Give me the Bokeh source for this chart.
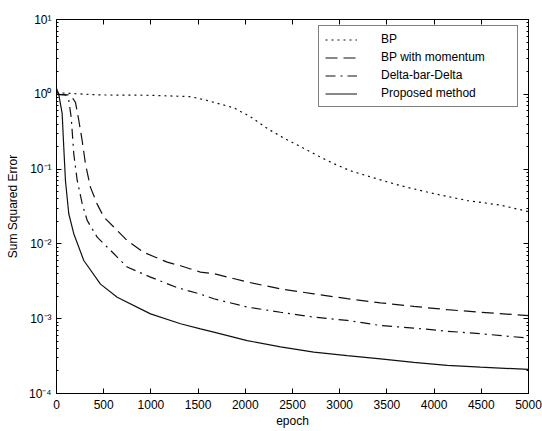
from bokeh.plotting import figure
from bokeh.models import (Range1d, LinearAxis, LogAxis, Legend, LegendItem,
                          FixedTicker, LogTicker, CustomJSTickFormatter)
from bokeh.embed import file_html
from bokeh.resources import INLINE

# ---- data ----
bp_epoch = [0, 466, 996, 1419, 1560, 1878, 2055, 2232, 2408, 2585, 2762, 2938,
            3114, 3291, 3644, 3997, 4351, 4703, 5000]
bp_sse = [1.05, 0.98, 0.97, 0.93, 0.85, 0.66, 0.50, 0.35, 0.26, 0.20, 0.152,
          0.118, 0.095, 0.081, 0.060, 0.047, 0.038, 0.033, 0.027]

mom_epoch = [0, 148, 201, 236, 272, 307, 360, 431, 501, 607, 749, 925, 1173,
             1314, 1525, 1666, 2020, 2373, 2726, 3079, 3432, 3785, 4139, 4492, 5000]
mom_sse = [1.0, 0.98, 0.78, 0.45, 0.24, 0.117, 0.057, 0.034, 0.0229, 0.0168,
           0.0111, 0.0077, 0.0057, 0.0051, 0.0042, 0.0040, 0.0031, 0.0025,
           0.00215, 0.00185, 0.00163, 0.00146, 0.00132, 0.00122, 0.0011]

dbd_epoch = [0, 95, 130, 156, 183, 219, 272, 325, 431, 572, 749, 996, 1279,
             1525, 1666, 2020, 2373, 2726, 3079, 3432, 3785, 4139, 4492, 5000]
dbd_sse = [1.0, 0.98, 0.83, 0.49, 0.16, 0.071, 0.0345, 0.0206, 0.0123, 0.0082,
           0.0049, 0.0036, 0.0026, 0.00213, 0.00185, 0.00143, 0.00122, 0.00105,
           0.00095, 0.00081, 0.00075, 0.00068, 0.00063, 0.00055]

pm_epoch = [0, 24, 60, 77, 95, 130, 183, 289, 466, 643, 996, 1314, 1525, 1666,
            2020, 2373, 2726, 3079, 3432, 3785, 4139, 4492, 5000]
pm_sse = [1.2, 1.0, 0.55, 0.196, 0.070, 0.0253, 0.0137, 0.0060, 0.0029,
          0.00194, 0.00116, 0.000855, 0.00073, 0.00066, 0.00051, 0.00042,
          0.000357, 0.00032, 0.00029, 0.00026, 0.000237, 0.000225, 0.00021]

x_ticks = [0, 500, 1000, 1500, 2000, 2500, 3000, 3500, 4000, 4500, 5000]
labels = ["BP", "BP with momentum", "Delta-bar-Delta", "Proposed method"]

FONT = "Liberation Sans"

p = figure(width=542, height=431, output_backend="svg", toolbar_location=None,
           y_axis_type="log", x_range=Range1d(0, 5000), y_range=Range1d(1e-4, 10),
           min_border_left=56, min_border_right=14, min_border_top=19,
           min_border_bottom=38)
p.grid.visible = False
p.outline_line_color = "black"
p.outline_line_width = 1
p.background_fill_color = "white"
p.border_fill_color = "white"

lw = 1.2
col = "#111111"
r1 = p.line(bp_epoch, bp_sse, line_color=col, line_width=lw, line_dash="2 4")
r2 = p.line(mom_epoch, mom_sse, line_color=col, line_width=lw, line_dash="12 6")
r3 = p.line(dbd_epoch, dbd_sse, line_color=col, line_width=lw, line_dash="10 5 2 5")
r4 = p.line(pm_epoch, pm_sse, line_color=col, line_width=lw)

sup = CustomJSTickFormatter(code="""
const m = {'0':'\u2070','1':'\u00b9','2':'\u00b2','3':'\u00b3','4':'\u2074',
           '5':'\u2075','6':'\u2076','7':'\u2077','8':'\u2078','9':'\u2079','-':'\u207b'};
const e = Math.round(Math.log10(tick));
return '10' + String(e).split('').map(c => m[c]).join('');
""")

def style(ax):
    ax.axis_line_color = "black"
    ax.major_tick_line_color = "black"
    ax.minor_tick_line_color = "black"
    ax.major_tick_in = 5
    ax.major_tick_out = 0
    ax.minor_tick_in = 2
    ax.minor_tick_out = 0
    ax.major_label_text_font = FONT
    ax.major_label_text_font_size = "12px"
    ax.major_label_text_color = "black"
    ax.axis_label_text_font = FONT
    ax.axis_label_text_font_size = "12px"
    ax.axis_label_text_font_style = "normal"
    ax.axis_label_text_color = "black"

xa = p.xaxis[0]
xa.ticker = FixedTicker(ticks=x_ticks)
xa.axis_label = "epoch"
xa.major_label_standoff = 6
xa.axis_label_standoff = 2
style(xa)
xa.minor_tick_in = 0

ya = p.yaxis[0]
ya.ticker = LogTicker(num_minor_ticks=10)
ya.formatter = sup
ya.axis_label = "Sum Squared Error"
ya.major_label_standoff = 5
ya.axis_label_standoff = 6
style(ya)

blank = CustomJSTickFormatter(code="return '';")

top = LinearAxis(ticker=FixedTicker(ticks=x_ticks), formatter=blank)
style(top)
top.minor_tick_in = 0
top.major_label_standoff = 0
p.add_layout(top, "above")

right = LogAxis(ticker=LogTicker(num_minor_ticks=10), formatter=blank)
style(right)
right.major_label_standoff = 0
p.add_layout(right, "right")

legend = Legend(items=[LegendItem(label=labels[0], renderers=[r1]),
                       LegendItem(label=labels[1], renderers=[r2]),
                       LegendItem(label=labels[2], renderers=[r3]),
                       LegendItem(label=labels[3], renderers=[r4])],
                location=(262, 286), margin=0, padding=6, spacing=4,
                glyph_width=32, glyph_height=13, label_height=13,
                label_width=130, label_standoff=24,
                label_text_font=FONT, label_text_font_size="12px",
                label_text_color="black",
                border_line_color="black", border_line_width=1,
                background_fill_color="white", background_fill_alpha=1)
p.add_layout(legend, "center")

open("out.html", "w").write(file_html(p, INLINE))
